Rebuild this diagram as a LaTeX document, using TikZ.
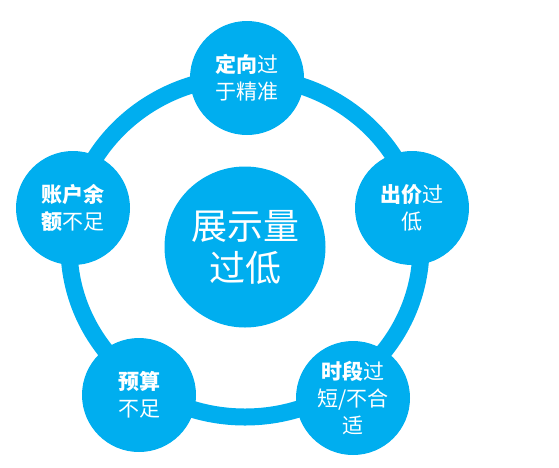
\documentclass[tikz,border=0pt]{standalone}
\usepackage{fontspec}
\setmainfont{Noto Sans CJK SC}
\usetikzlibrary{backgrounds}
\definecolor{cyanb}{RGB}{0,174,239}
\begin{document}
\begin{tikzpicture}[x=1pt,y=-1pt,
  bub/.style={circle,fill=cyanb,inner sep=0pt,minimum size=114pt,text=white,align=center,font=\fontsize{21}{27}\selectfont},
  hub/.style={circle,fill=cyanb,inner sep=0pt,minimum size=161pt,text=white,align=center,font=\fontsize{36}{42}\selectfont},
  ring/.style={draw=cyanb,line width=17pt}]
\useasboundingbox (0,0) rectangle (559,467);
\node[hub] (hub) at (245,247) {展示量\\过低};
\node[bub] (top) at (247,78) {\textbf{定向}过\\于精准};
\node[bub] (rt) at (412,208) {\textbf{出价}过\\低};
\node[bub] (br) at (353,398) {\textbf{时段}过\\短/不合\\适};
\node[bub] (bl) at (139,395) {\textbf{预算}\\不足};
\node[bub] (lf) at (73,208) {\textbf{账户余}\\\textbf{额}不足};
\begin{scope}[on background layer]
\draw[ring] (hub.center) ellipse [x radius=176pt, y radius=170pt];
\end{scope}
\end{tikzpicture}
\end{document}
